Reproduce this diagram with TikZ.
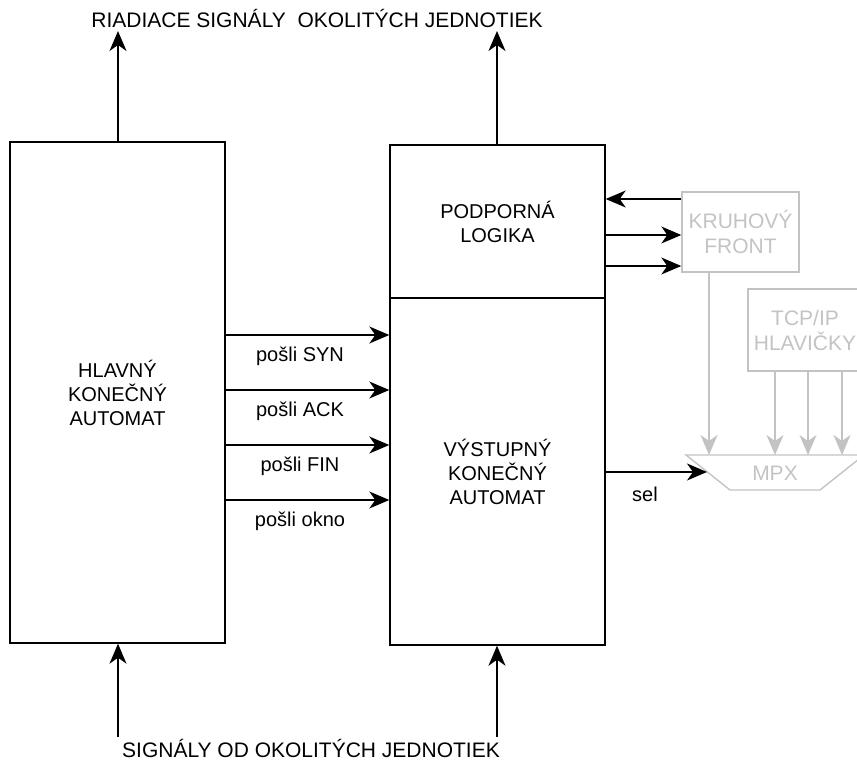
\documentclass[tikz,border=0pt]{standalone}
\usepackage{fontspec}
\setmainfont{Liberation Sans}
\usetikzlibrary{arrows.meta}
\definecolor{gr}{RGB}{195,195,195}
\begin{document}
\begin{tikzpicture}[x=1pt,y=-1pt,
  txt/.style={font=\fontsize{20}{24}\selectfont},
  btxt/.style={font=\fontsize{21}{25}\selectfont},
  blk/.style={draw, line width=1.4pt, inner sep=0pt, align=center, txt},
  gblk/.style={draw=gr, text=gr, line width=1.4pt, inner sep=0pt, align=center, btxt},
  arr/.style={-{Stealth[length=20pt,width=17pt,inset=6pt]}, line width=1.4pt},
  garr/.style={arr, draw=gr, color=gr},
  lbl/.style={inner sep=0pt, txt},
  blbl/.style={inner sep=0pt, btxt}
]
\useasboundingbox (0,0) rectangle (857,760);
% main boxes
\node[blk, minimum width=215pt, minimum height=501pt] (hl) at (117.5,392.5) {HLAVNÝ\\KONEČNÝ\\AUTOMAT};
\node[blk, minimum width=215pt, minimum height=153pt] (pl) at (497.5,221.5) {PODPORNÁ\\LOGIKA};
\node[blk, minimum width=215pt, minimum height=347pt] (va) at (497.5,471.5) {VÝSTUPNÝ\\KONEČNÝ\\AUTOMAT};
% gray boxes
\node[gblk, minimum width=117pt, minimum height=80pt] (kf) at (740.5,232) {KRUHOVÝ\\FRONT};
\node[gblk, minimum width=114pt, minimum height=82pt] (tcp) at (805,330) {TCP/IP\\HLAVIČKY};
% multiplexer
\coordinate (m1) at (686,455);
\coordinate (m2) at (864,455);
\coordinate (m3) at (820,490);
\coordinate (m4) at (730,490);
\draw[gr, line width=1.4pt] (m1) -- (m2) -- (m3) -- (m4) -- cycle;
\node[blbl, text=gr] (mpx) at (775,473) {MPX};
% top/bottom texts
\node[blbl] (top) at (317,18) {RIADIACE SIGNÁLY\ \ OKOLITÝCH JEDNOTIEK};
\node[blbl] (bot) at (311,748) {SIGNÁLY OD OKOLITÝCH JEDNOTIEK};
\coordinate (t1) at (118,31);
\coordinate (t2) at (497,31);
\coordinate (b1) at (118,737);
\coordinate (b2) at (497,737);
\draw[arr] (hl.north -| t1) -- (t1);
\draw[arr] (pl.north -| t2) -- (t2);
\draw[arr] (b1) -- (hl.south -| b1);
\draw[arr] (b2) -- (va.south -| b2);
% signals between automata
\foreach \y/\t [count=\i] in {335/pošli SYN,390/pošli ACK,445/pošli FIN,500/pošli okno}{
  \coordinate (s\i) at (300,\y);
  \draw[arr] (hl.east |- s\i) -- (va.west |- s\i);
  \node[lbl] (l\i) at (300,\y+21) {\t};
}
% support logic <-> ring buffer
\coordinate (k1) at (650,199);
\coordinate (k2) at (650,235);
\coordinate (k3) at (650,266);
\draw[arr] (kf.west |- k1) -- (pl.east |- k1);
\draw[arr] (pl.east |- k2) -- (kf.west |- k2);
\draw[arr] (pl.east |- k3) -- (kf.west |- k3);
% into MPX
\coordinate (g0) at (709,455);
\draw[garr] (kf.south -| g0) -- (g0);
\foreach \x [count=\i] in {775,808,842}{
  \coordinate (g\i) at (\x,455);
  \draw[garr] (tcp.south -| g\i) -- (g\i);
}
\coordinate (sl) at (707,472);
\draw[arr] (va.east |- sl) -- (sl);
\node[lbl] (sel) at (645,494) {sel};
\end{tikzpicture}
\end{document}
